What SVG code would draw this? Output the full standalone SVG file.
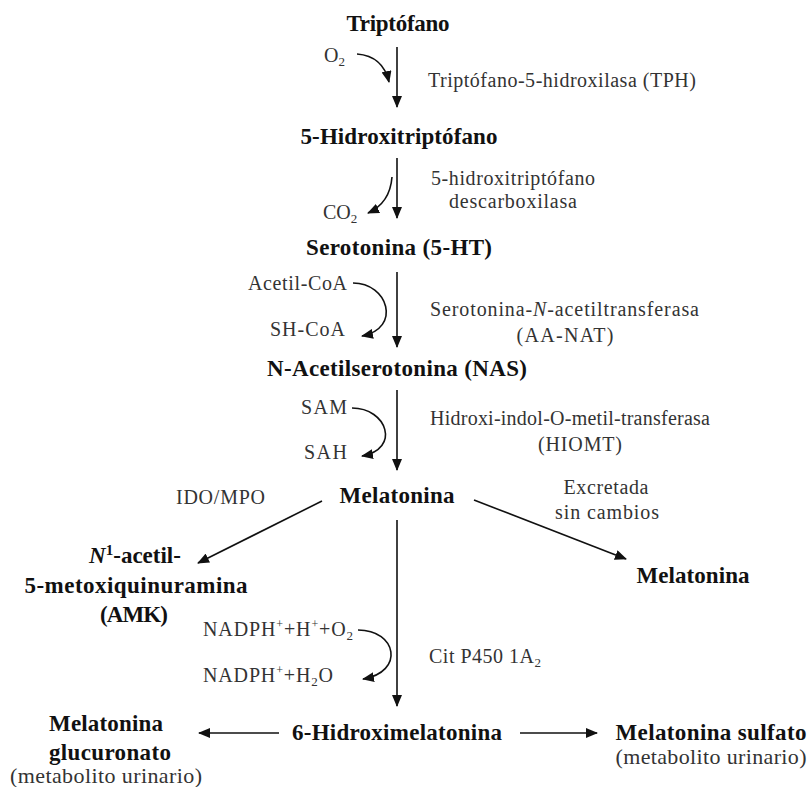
<svg xmlns="http://www.w3.org/2000/svg" width="811" height="787" viewBox="0 0 811 787">
<defs>
<style>
.b{font-family:"Liberation Serif","Times New Roman",serif;font-weight:bold;font-size:23px;fill:#111;text-anchor:middle}
.r{font-family:"Liberation Serif","Times New Roman",serif;font-size:20px;fill:#333}
.rc{font-family:"Liberation Serif","Times New Roman",serif;font-size:20px;fill:#333;text-anchor:middle}
.u{font-family:"Liberation Serif","Times New Roman",serif;font-size:22px;fill:#333;text-anchor:middle}
.ln{fill:none;stroke:#111;stroke-width:1.6}
</style>
<marker id="ah" viewBox="0 0 12 10" refX="11" refY="5" markerWidth="12" markerHeight="10" markerUnits="userSpaceOnUse" orient="auto">
<path d="M0,0 L12,5 L0,10 Z" fill="#111"/>
</marker>
</defs>
<rect width="811" height="787" fill="#fff"/>

<g id="connectors">
<line class="ln" x1="397" y1="47" x2="397" y2="107" marker-end="url(#ah)"/>
<path class="ln" d="M357,54 Q383,56 389,82" marker-end="url(#ah)"/>
<line class="ln" x1="397" y1="158" x2="397" y2="218" marker-end="url(#ah)"/>
<path class="ln" d="M392,177 Q390,203 368,213" marker-end="url(#ah)"/>
<line class="ln" x1="397" y1="272" x2="397" y2="347" marker-end="url(#ah)"/>
<path class="ln" d="M353,283 C388,283 402,328 362,336" marker-end="url(#ah)"/>
<line class="ln" x1="397" y1="390" x2="397" y2="470" marker-end="url(#ah)"/>
<path class="ln" d="M352,408 C387,408 401,449 362,456" marker-end="url(#ah)"/>
<line class="ln" x1="322" y1="501" x2="198" y2="563" marker-end="url(#ah)"/>
<line class="ln" x1="474" y1="500" x2="626" y2="559" marker-end="url(#ah)"/>
<line class="ln" x1="397" y1="520" x2="397" y2="706" marker-end="url(#ah)"/>
<path class="ln" d="M358,630 C397,630 405,672 363,679" marker-end="url(#ah)"/>
<line class="ln" x1="279" y1="733" x2="199" y2="733" marker-end="url(#ah)"/>
<line class="ln" x1="520" y1="733" x2="597" y2="733" marker-end="url(#ah)"/>
</g>

<g id="triptofano"><text class="b" x="398" y="31" textLength="103">Triptófano</text></g>
<g id="step1">
<text class="r" x="324" y="62">O<tspan font-size="13" dy="4">2</tspan></text>
<text class="r" x="428" y="87" textLength="268">Triptófano-5-hidroxilasa (TPH)</text>
</g>
<g id="hidroxitriptofano"><text class="b" x="399" y="144" textLength="197">5-Hidroxitriptófano</text></g>
<g id="step2">
<text class="r" x="323" y="219">CO<tspan font-size="13" dy="4">2</tspan></text>
<text class="r" x="431" y="185" textLength="164">5-hidroxitriptófano</text>
<text class="rc" x="513" y="208" textLength="128">descarboxilasa</text>
</g>
<g id="serotonina"><text class="b" x="399" y="255" textLength="186">Serotonina (5-HT)</text></g>
<g id="step3">
<text class="r" x="248" y="290" textLength="99">Acetil-CoA</text>
<text class="r" x="270" y="336" textLength="75">SH-CoA</text>
<text class="r" x="430" y="316" textLength="269">Serotonina-<tspan font-style="italic">N</tspan>-acetiltransferasa</text>
<text class="rc" x="565" y="342" textLength="97">(AA-NAT)</text>
</g>
<g id="nas"><text class="b" x="397" y="376" textLength="260">N-Acetilserotonina (NAS)</text></g>
<g id="step4">
<text class="r" x="301" y="414" textLength="46">SAM</text>
<text class="r" x="304" y="459" textLength="43">SAH</text>
<text class="r" x="430" y="425" textLength="280">Hidroxi-indol-O-metil-transferasa</text>
<text class="rc" x="580" y="451" textLength="84">(HIOMT)</text>
</g>
<g id="melatonina"><text class="b" x="397" y="503" textLength="115">Melatonina</text></g>
<g id="ido-label"><text class="r" x="176" y="504" textLength="89">IDO/MPO</text></g>
<g id="amk">
<text class="b" x="135" y="563"><tspan font-style="italic">N</tspan><tspan font-size="15" dy="-8">1</tspan><tspan dy="8">-acetil-</tspan></text>
<text class="b" x="136" y="593" textLength="223">5-metoxiquinuramina</text>
<text class="b" x="134" y="622" textLength="68">(AMK)</text>
</g>
<g id="excretada-label">
<text class="rc" x="606" y="494" textLength="85">Excretada</text>
<text class="rc" x="607" y="519" textLength="104">sin cambios</text>
</g>
<g id="melatonina-excretada"><text class="b" x="693" y="583" textLength="113">Melatonina</text></g>
<g id="step5">
<text class="r" x="203" y="636" textLength="150">NADPH<tspan font-size="12" dy="-8">+</tspan><tspan dy="8">+H</tspan><tspan font-size="12" dy="-8">+</tspan><tspan dy="8">+O</tspan><tspan font-size="13" dy="4">2</tspan></text>
<text class="r" x="203" y="682" textLength="130">NADPH<tspan font-size="12" dy="-8">+</tspan><tspan dy="8">+H</tspan><tspan font-size="13" dy="4">2</tspan><tspan dy="-4">O</tspan></text>
<text class="r" x="429" y="663" textLength="112">Cit P450 1A<tspan font-size="13" dy="4">2</tspan></text>
</g>
<g id="hidroximelatonina"><text class="b" x="397" y="740" textLength="210">6-Hidroximelatonina</text></g>
<g id="glucuronato">
<text class="b" x="106" y="731" textLength="114">Melatonina</text>
<text class="b" x="110" y="760" textLength="122">glucuronato</text>
<text class="u" x="106" y="783" textLength="192">(metabolito urinario)</text>
</g>
<g id="sulfato">
<text class="b" x="711" y="740" textLength="191">Melatonina sulfato</text>
<text class="u" x="711" y="764" textLength="191">(metabolito urinario)</text>
</g>
</svg>
